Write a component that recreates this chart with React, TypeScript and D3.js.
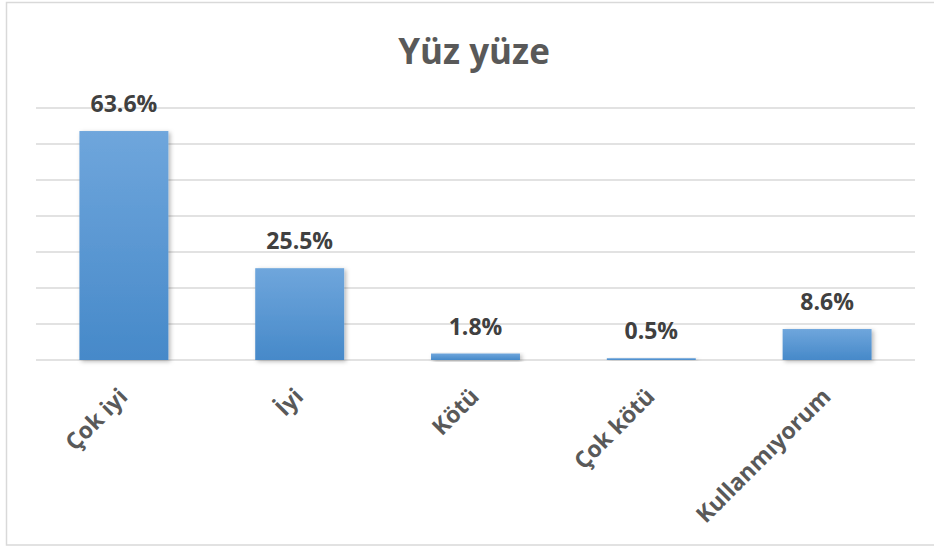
import React from "react";
import * as d3 from "d3";

const categories = ["Çok iyi", "İyi", "Kötü", "Çok kötü", "Kullanmıyorum"];
const values = [63.6, 25.5, 1.8, 0.5, 8.6];
const labels = ["63.6%", "25.5%", "1.8%", "0.5%", "8.6%"];
const yTicks = [0, 10, 20, 30, 40, 50, 60, 70];
const title = "Yüz yüze";

const W = 934;
const H = 546;
const plotLeft = 36;
const plotRight = 915;
const plotTop = 108;
const plotBottom = 360;

export default function App() {
  const x = d3.scaleBand<string>().domain(categories).range([plotLeft, plotRight]).paddingInner(0.494).paddingOuter(0.247);
  const y = d3.scaleLinear().domain([0, 70]).range([plotBottom, plotTop]);
  const font = "'Open Sans', 'Noto Sans', sans-serif";
  return (
    <svg width={W} height={H} style={{ position: "absolute", left: 0, top: 0, background: "#fff" }}>
      <defs>
        <linearGradient id="barGrad" x1="0" y1="0" x2="0" y2="1">
          <stop offset="0%" stopColor="#6fa6dc" />
          <stop offset="100%" stopColor="#4689c9" />
        </linearGradient>
        <filter id="shadow" x="-20%" y="-20%" width="140%" height="140%">
          <feDropShadow dx="2" dy="1.5" stdDeviation="2" floodColor="#000" floodOpacity="0.28" />
        </filter>
      </defs>
      <rect x={6.5} y={2.5} width={940} height={542.5} fill="#fff" stroke="#d9d9d9" strokeWidth={1.5} />
      <text x={474} y={64} textAnchor="middle" fontFamily={font} fontWeight="bold" fontSize={35} fill="#595959">
        {title}
      </text>
      {yTicks.map((t) => (
        <line key={t} x1={plotLeft} x2={plotRight} y1={y(t)} y2={y(t)} stroke="#d9d9d9" strokeWidth={1.5} />
      ))}
      {categories.map((c, i) => (
        <rect
          key={c}
          x={x(c)}
          y={y(values[i])}
          width={x.bandwidth()}
          height={plotBottom - y(values[i])}
          fill="url(#barGrad)"
          filter="url(#shadow)"
        />
      ))}
      {categories.map((c, i) => (
        <text
          key={c}
          x={(x(c) as number) + x.bandwidth() / 2}
          y={y(values[i]) - 19}
          textAnchor="middle"
          fontFamily={font}
          fontWeight="bold"
          fontSize={23}
          fill="#404040"
        >
          {labels[i]}
        </text>
      ))}
      {categories.map((c) => {
        const cx = (x(c) as number) + x.bandwidth() / 2 + 5;
        const cy = 398;
        return (
          <text
            key={c}
            transform={`translate(${cx},${cy}) rotate(-45)`}
            textAnchor="end"
            fontFamily={font}
            fontWeight="bold"
            fontSize={23}
            fill="#595959"
          >
            {c}
          </text>
        );
      })}
    </svg>
  );
}
